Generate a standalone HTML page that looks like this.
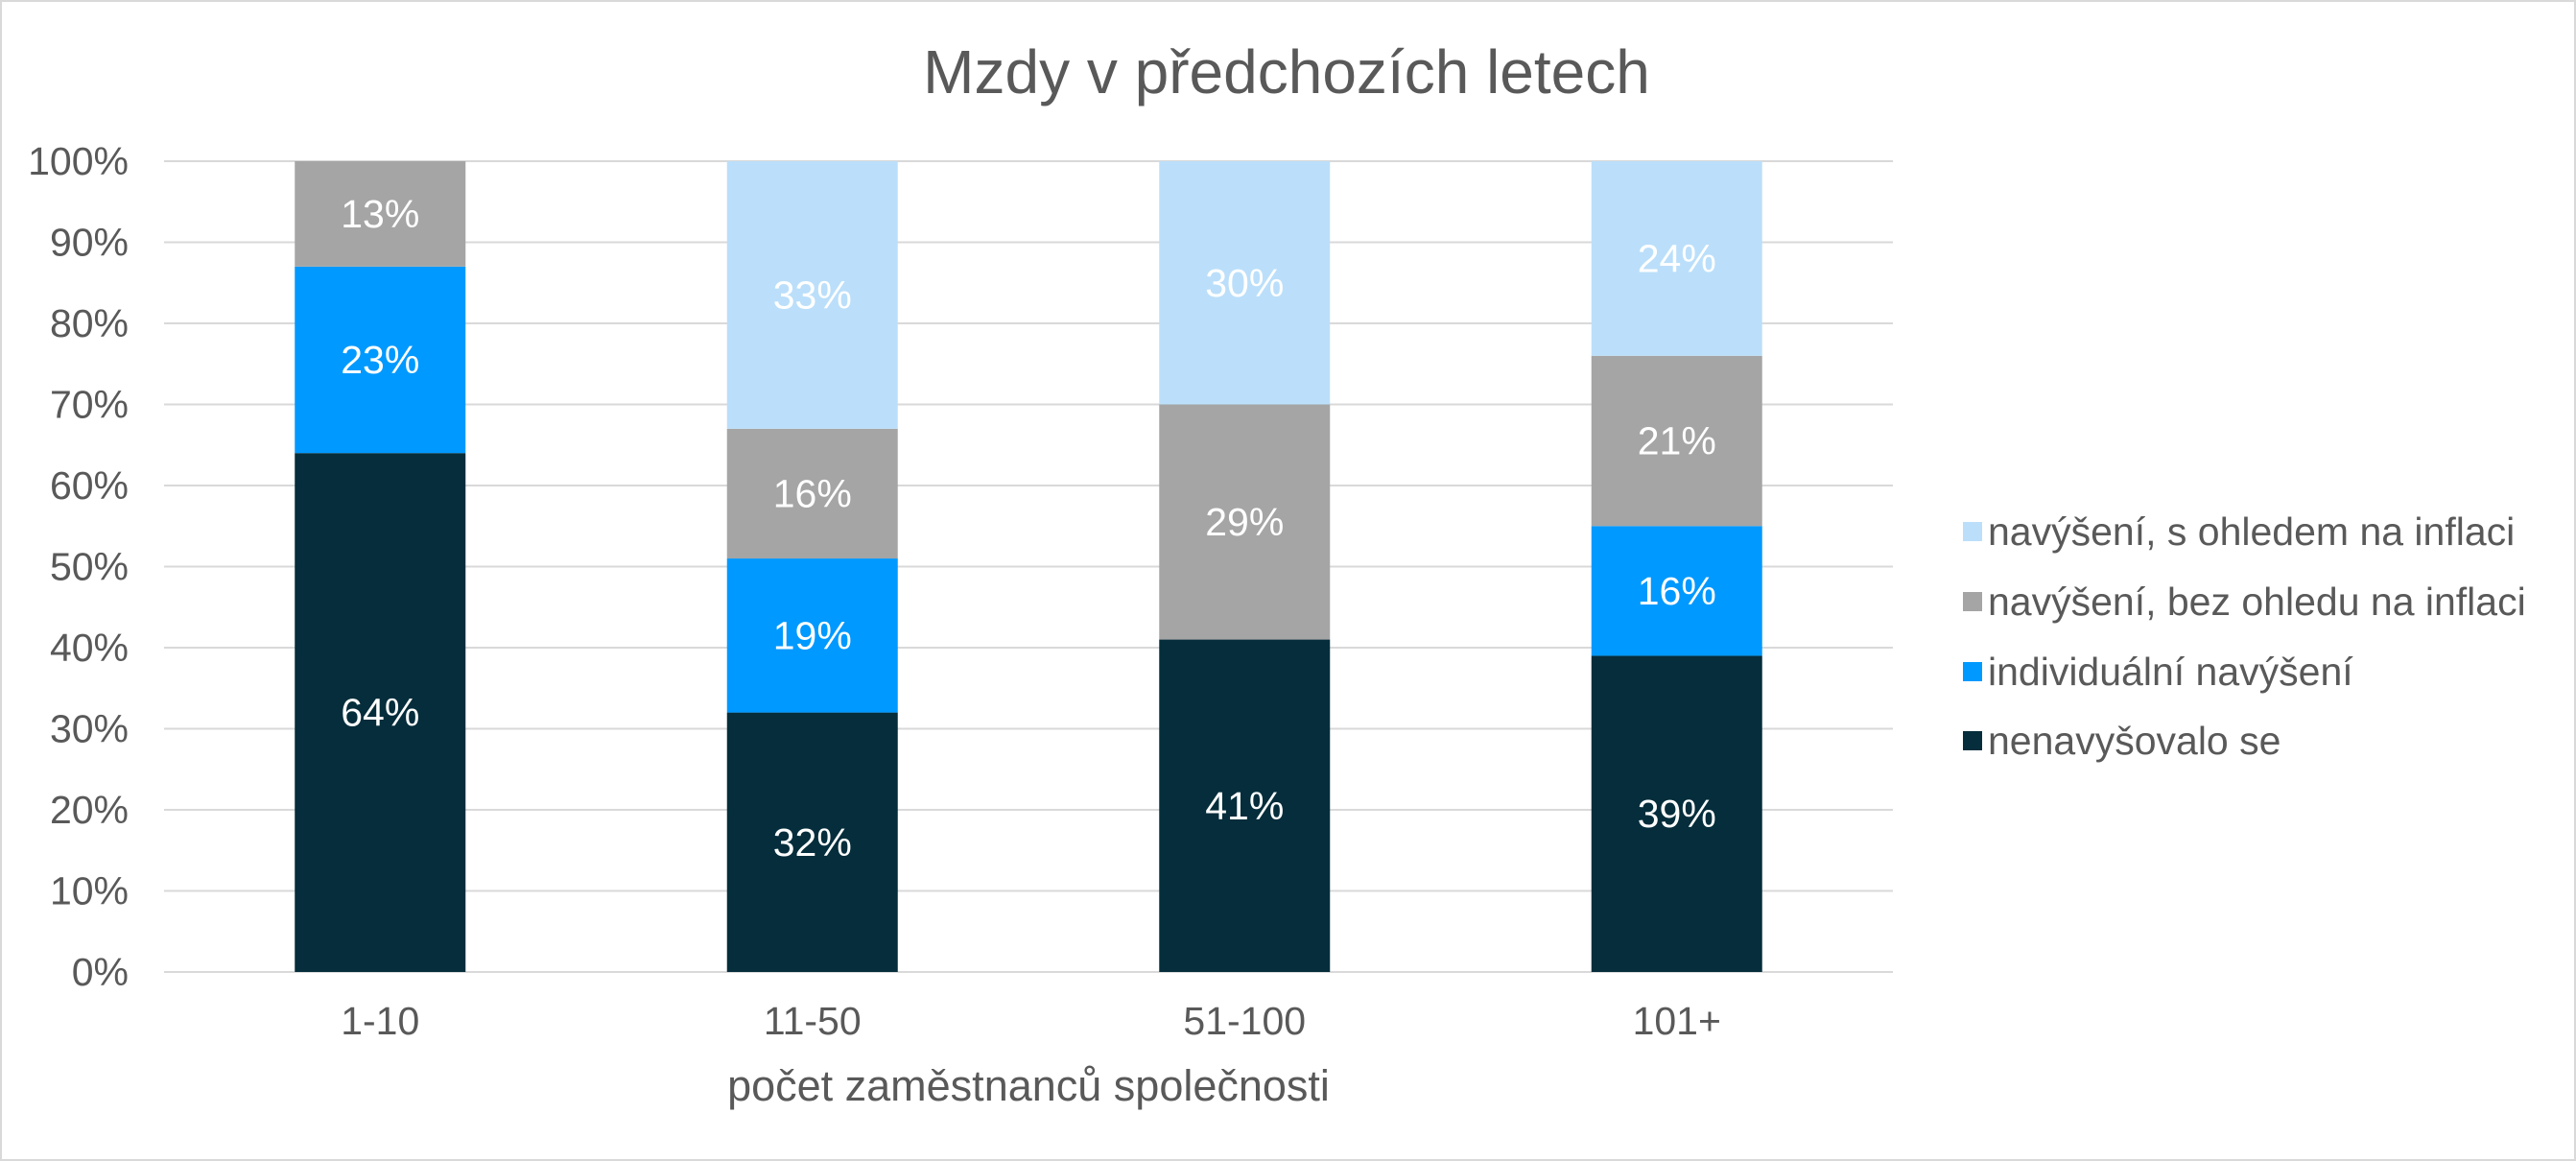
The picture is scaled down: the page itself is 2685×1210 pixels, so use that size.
<!DOCTYPE html>
<html><head><meta charset="utf-8"><style>
html,body{margin:0;padding:0;background:#fff}
svg{display:block;font-family:"Liberation Sans",sans-serif}
</style></head><body>
<svg id="c" width="2685" height="1210" viewBox="0 0 2685 1210">
<rect x="1" y="1" width="2683" height="1208" fill="#fff" stroke="#d9d9d9" stroke-width="2"/>
<text x="1341" y="97" font-size="64" fill="#595959" text-anchor="middle">Mzdy v předchozích letech</text>
<g id="grid"></g><g id="bars"></g><g id="legend"></g>
<text x="1072" y="1147" font-size="45" fill="#595959" text-anchor="middle">počet zaměstnanců společnosti</text>
</svg>
<script>
const categories=["1-10","11-50","51-100","101+"];
const seriesNames=["nenavyšovalo se","individuální navýšení","navýšení, bez ohledu na inflaci","navýšení, s ohledem na inflaci"];
const nenavysovalo=[64,32,41,39];
const individualni=[23,19,0,16];
const bezOhledu=[13,16,29,21];
const sOhledem=[0,33,30,24];
const yTicks=[0,10,20,30,40,50,60,70,80,90,100];
const series=[nenavysovalo,individualni,bezOhledu,sOhledem];
const colors=["#052d3b","#0099ff","#a5a5a5","#bbdffa"];
const NS="http://www.w3.org/2000/svg";
const X0=171,X1=1973,Y0=1013,Y1=168;
const y=v=>Y0-(Y0-Y1)*v/100;
const bw=(X1-X0)/categories.length;
const xc=i=>X0+bw*(i+0.5);
function mk(t,a,p){const e=document.createElementNS(NS,t);for(const k in a)e.setAttribute(k,a[k]);p.appendChild(e);return e;}
const g=document.getElementById('grid');
yTicks.forEach(t=>{
 const l=mk('line',{x1:X0,x2:X1,y1:y(t),y2:y(t),stroke:'#d9d9d9','stroke-width':2},g);
 
 
 const tx=mk('text',{x:X0-37,y:y(t)+14,'font-size':41,fill:'#595959','text-anchor':'end'},g);
 tx.textContent=t+'%';
 
 
});
const b=document.getElementById('bars');
categories.forEach((c,i)=>{
 let acc=0;
 series.forEach((s,k)=>{
  const v=s[i];if(!v)return;
  const r=mk('rect',{x:xc(i)-89,y:y(acc+v),width:178,height:y(acc)-y(acc+v),fill:colors[k]},b);
  
  
  const t=mk('text',{x:xc(i),y:(y(acc)+y(acc+v))/2+14,'font-size':41,fill:'#fff','text-anchor':'middle'},b);
  t.textContent=v+'%';
  
  
  acc+=v;
 });
 const t=mk('text',{x:xc(i),y:1078,'font-size':41,fill:'#595959','text-anchor':'middle'},b);
 t.textContent=c;
 
 
});
const lg=document.getElementById('legend');
const ly=[772,700,627,554];
seriesNames.forEach((n,k)=>{
 const r=mk('rect',{x:2046,y:ly[k]-10,width:20,height:20,fill:colors[k]},lg);
 
 
 const t=mk('text',{x:2072,y:ly[k]+14,'font-size':41,fill:'#595959'},lg);
 t.textContent=n;
 
 
});
</script>
</body></html>
